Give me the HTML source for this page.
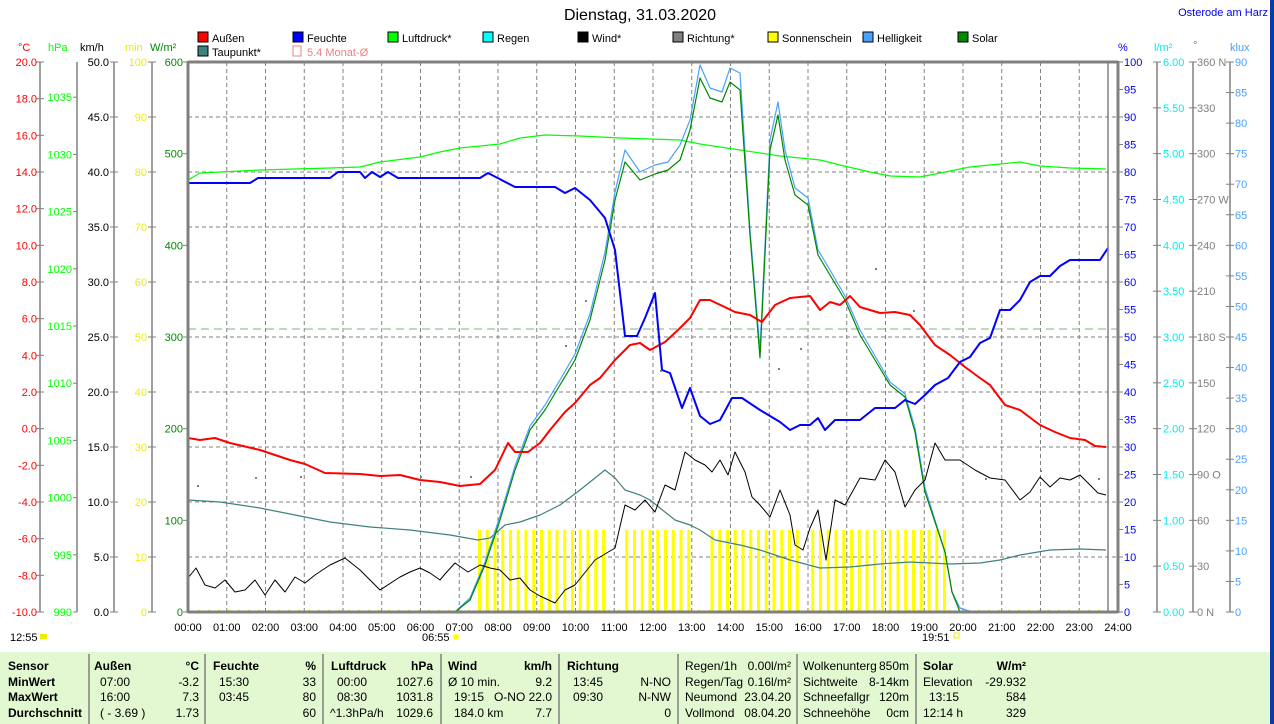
<!DOCTYPE html>
<html><head><meta charset="utf-8"><style>
body{margin:0;background:#fff;}
svg{display:block;font-family:"Liberation Sans",sans-serif;}
</style></head><body>
<svg width="1274" height="724" viewBox="0 0 1274 724" xmlns="http://www.w3.org/2000/svg">
<rect width="1274" height="724" fill="#fff"/>
<text x="640" y="20" font-size="16" text-anchor="middle">Dienstag, 31.03.2020</text>
<text x="1268" y="16" font-size="11" fill="#0000ee" text-anchor="end">Osterode am Harz</text>
<rect x="1270" y="0" width="4" height="724" fill="#0a3aa8"/>
<g font-size="11">
<rect x="198" y="32" width="10" height="10" fill="#f00" stroke="#000"/><text x="212" y="42">Außen</text>
<rect x="293" y="32" width="10" height="10" fill="#00f" stroke="#000"/><text x="307" y="42">Feuchte</text>
<rect x="388" y="32" width="10" height="10" fill="#0f0" stroke="#000"/><text x="402" y="42">Luftdruck*</text>
<rect x="483" y="32" width="10" height="10" fill="#0ff" stroke="#000"/><text x="497" y="42">Regen</text>
<rect x="578" y="32" width="10" height="10" fill="#000" stroke="#000"/><text x="592" y="42">Wind*</text>
<rect x="673" y="32" width="10" height="10" fill="#808080" stroke="#000"/><text x="687" y="42">Richtung*</text>
<rect x="768" y="32" width="10" height="10" fill="#ff0" stroke="#000"/><text x="782" y="42">Sonnenschein</text>
<rect x="863" y="32" width="10" height="10" fill="#4aa0ff" stroke="#000"/><text x="877" y="42">Helligkeit</text>
<rect x="958" y="32" width="10" height="10" fill="#080" stroke="#000"/><text x="972" y="42">Solar</text>
<rect x="198" y="46" width="10" height="10" fill="#408080" stroke="#000"/><text x="212" y="56">Taupunkt*</text>
<rect x="293" y="46" width="8" height="10" fill="none" stroke="#f08080"/><text x="307" y="56" fill="#f08080">5.4 Monat-Ø</text>
<text x="18" y="51" fill="#f00">°C</text><text x="48" y="51" fill="#0f0">hPa</text><text x="80" y="51">km/h</text>
<text x="125" y="51" fill="#ee0">min</text><text x="150" y="51" fill="#080">W/m²</text>
<text x="1118" y="51" fill="#00f">%</text><text x="1154" y="51" fill="#0ee">l/m²</text><text x="1193" y="49" fill="#808080">°</text><text x="1230" y="51" fill="#4aa0ff">klux</text>
</g>
<g stroke="#808080" stroke-width="1.5">
<line x1="40" y1="62" x2="40" y2="612"/><line x1="77" y1="62" x2="77" y2="612"/><line x1="114" y1="62" x2="114" y2="612"/><line x1="152" y1="62" x2="152" y2="612"/>
<line x1="1157" y1="62" x2="1157" y2="612"/><line x1="1193" y1="62" x2="1193" y2="612"/><line x1="1230" y1="62" x2="1230" y2="612"/>
</g>
<g id="ticks" font-size="11"></g>
<g stroke="#808080" stroke-dasharray="4,3" stroke-width="1" id="grid"></g>
<line x1="188" y1="329" x2="1118" y2="329" stroke="#80b080" stroke-dasharray="8,5"/>
<g id="sun" fill="#ff0"></g>
<g fill="none" stroke-linejoin="round">
<polyline stroke="#408080" stroke-width="1.2" points="188,500 220,502 260,508 300,516 330,522 370,527 410,530 450,535 478,540 490,538 505,525 520,522 540,515 560,505 580,490 595,478 605,470 615,478 625,490 640,495 650,500 660,508 675,520 690,525 700,530 715,540 740,545 760,550 790,560 820,568 850,567 880,564 910,562 950,564 980,563 1000,560 1020,555 1050,550 1080,549 1106,550"/>
<polyline stroke="#0f0" stroke-width="1.2" points="188,180 200,173 260,170 330,168 360,167 380,162 420,157 440,152 460,148 500,144 520,138 545,135 580,136 620,138 680,140 700,144 740,150 780,156 820,160 840,165 870,172 890,176 920,177 940,173 970,167 1000,164 1020,162 1040,166 1070,168 1106,169"/>
<polyline stroke="#4aa0ff" stroke-width="1.2" points="455,612 470,598 485,562 500,516 515,466 530,426 545,405 560,380 575,354 590,314 605,252 615,192 625,150 640,172 655,165 668,162 680,145 690,120 700,65 710,88 722,92 730,68 740,73 750,230 760,350 770,140 778,102 785,150 795,188 808,198 818,250 830,270 845,296 860,330 875,356 890,382 905,394 915,428 925,488 935,520 945,552 952,592 960,608 972,612"/>
<polyline stroke="#080" stroke-width="1.2" points="455,612 470,600 485,565 500,520 515,470 530,430 545,410 560,385 575,360 590,320 605,260 615,200 625,162 640,180 655,174 668,170 680,160 690,130 700,78 710,98 722,102 730,82 740,90 750,235 760,358 770,150 778,115 785,160 795,195 808,205 818,255 830,275 845,300 860,335 875,360 890,385 905,397 915,432 925,492 935,522 945,552 952,592 960,612"/>
<polyline stroke="#000" stroke-width="1" points="188,578 196,568 205,585 215,588 225,580 235,592 245,590 255,580 265,595 275,580 285,592 295,577 305,583 315,575 330,565 345,558 360,570 380,590 400,577 410,572 420,568 430,573 440,580 445,574 455,563 468,572 480,565 490,568 500,570 510,580 520,578 530,590 540,596 555,603 565,590 575,585 595,560 615,548 625,505 635,510 645,500 655,512 665,485 675,490 685,452 695,460 705,465 712,472 720,460 728,475 735,452 745,472 752,497 760,505 770,517 780,490 790,515 795,545 803,550 810,528 818,510 826,560 835,500 845,505 860,478 875,480 885,460 895,472 905,507 915,490 925,480 935,443 945,460 960,460 975,470 990,478 1005,480 1020,500 1030,492 1040,477 1050,487 1060,478 1070,480 1080,475 1090,485 1098,493 1106,495"/>
<polyline stroke="#f00" stroke-width="2" points="188,438 200,440 215,438 230,443 260,450 290,460 305,464 325,473 360,474 380,476 400,475 420,480 440,482 460,486 480,484 495,470 508,443 515,452 528,452 540,443 550,430 565,412 575,403 590,385 600,378 615,360 630,345 640,343 650,350 665,342 678,330 690,318 700,300 710,300 735,312 750,315 762,322 775,305 790,298 810,296 820,310 830,302 840,305 850,296 860,307 880,313 895,312 910,315 920,325 935,345 950,355 965,367 980,378 990,385 1005,405 1020,410 1040,425 1055,432 1070,438 1085,440 1095,446 1106,447"/>
<polyline stroke="#00f" stroke-width="2" points="188,183 250,183 258,178 330,178 338,172 360,172 365,178 372,172 380,177 388,172 398,178 480,178 488,173 515,187 555,187 565,193 575,188 590,200 605,218 615,250 625,336 637,336 645,318 655,293 662,370 670,373 682,408 690,388 700,416 710,424 720,420 732,398 742,398 760,410 780,422 790,430 800,425 810,425 818,418 825,430 835,420 860,420 875,408 895,408 905,400 915,404 925,395 935,385 948,378 960,362 970,357 980,343 990,338 1000,310 1010,310 1020,300 1030,282 1040,276 1050,276 1060,266 1070,260 1100,260 1108,248"/>
</g>
<g fill="#808080">
<rect x="197" y="485" width="2" height="2"/><rect x="255" y="477" width="2" height="2"/><rect x="300" y="476" width="2" height="2"/><rect x="420" y="476" width="2" height="2"/><rect x="470" y="476" width="2" height="2"/><rect x="565" y="345" width="2" height="2"/><rect x="585" y="300" width="2" height="2"/><rect x="660" y="370" width="2" height="2"/><rect x="778" y="368" width="2" height="2"/><rect x="800" y="348" width="2" height="2"/><rect x="875" y="268" width="2" height="2"/><rect x="913" y="310" width="2" height="2"/><rect x="985" y="478" width="2" height="2"/><rect x="1040" y="470" width="2" height="2"/><rect x="1098" y="478" width="2" height="2"/>
</g>
<g stroke="#808080" stroke-width="3" fill="none">
<line x1="188" y1="62" x2="1118" y2="62"/><line x1="188" y1="61" x2="188" y2="613"/><line x1="1118" y1="61" x2="1118" y2="613"/><line x1="188" y1="612" x2="1118" y2="612"/>
</g>
<line x1="1108" y1="62" x2="1108" y2="612" stroke="#808080" stroke-width="1.5"/>
<g font-size="11" id="xl"></g>
<g font-size="11">
<text x="10" y="641">12:55</text><rect x="40" y="634" width="7" height="5" fill="#ee0"/>
<text x="422" y="641">06:55</text><circle cx="456" cy="637" r="3" fill="#ff0"/>
<text x="922" y="641">19:51</text><rect x="954" y="633" width="5" height="5" fill="none" stroke="#ee0"/>
</g>
<rect x="0" y="652" width="1270" height="72" fill="#e2f8d0"/>
<g stroke="#808080" stroke-width="1.5">
<line x1="89" y1="654" x2="89" y2="724"/><line x1="205" y1="654" x2="205" y2="724"/><line x1="323" y1="654" x2="323" y2="724"/><line x1="441" y1="654" x2="441" y2="724"/><line x1="559" y1="654" x2="559" y2="724"/><line x1="678" y1="654" x2="678" y2="724"/><line x1="797" y1="654" x2="797" y2="724"/><line x1="916" y1="654" x2="916" y2="724"/>
</g>
<g font-size="12">
<g font-weight="bold"><text x="8" y="670">Sensor</text><text x="8" y="686">MinWert</text><text x="8" y="701">MaxWert</text><text x="8" y="717">Durchschnitt</text>
<text x="94" y="670">Außen</text><text x="199" y="670" text-anchor="end">°C</text><text x="213" y="670">Feuchte</text><text x="316" y="670" text-anchor="end">%</text>
<text x="331" y="670">Luftdruck</text><text x="433" y="670" text-anchor="end">hPa</text><text x="448" y="670">Wind</text><text x="552" y="670" text-anchor="end">km/h</text><text x="567" y="670">Richtung</text>
<text x="923" y="670">Solar</text><text x="1026" y="670" text-anchor="end">W/m²</text></g>
<text x="100" y="686">07:00</text><text x="199" y="686" text-anchor="end">-3.2</text><text x="100" y="701">16:00</text><text x="199" y="701" text-anchor="end">7.3</text><text x="100" y="717">( - 3.69 )</text><text x="199" y="717" text-anchor="end">1.73</text>
<text x="219" y="686">15:30</text><text x="316" y="686" text-anchor="end">33</text><text x="219" y="701">03:45</text><text x="316" y="701" text-anchor="end">80</text><text x="316" y="717" text-anchor="end">60</text>
<text x="337" y="686">00:00</text><text x="433" y="686" text-anchor="end">1027.6</text><text x="337" y="701">08:30</text><text x="433" y="701" text-anchor="end">1031.8</text><text x="330" y="717">^1.3hPa/h</text><text x="433" y="717" text-anchor="end">1029.6</text>
<text x="448" y="686">Ø 10 min.</text><text x="552" y="686" text-anchor="end">9.2</text><text x="454" y="701">19:15</text><text x="552" y="701" text-anchor="end">O-NO 22.0</text><text x="454" y="717">184.0 km</text><text x="552" y="717" text-anchor="end">7.7</text>
<text x="573" y="686">13:45</text><text x="671" y="686" text-anchor="end">N-NO</text><text x="573" y="701">09:30</text><text x="671" y="701" text-anchor="end">N-NW</text><text x="671" y="717" text-anchor="end">0</text>
<text x="685" y="670">Regen/1h</text><text x="791" y="670" text-anchor="end">0.00l/m²</text><text x="685" y="686">Regen/Tag</text><text x="791" y="686" text-anchor="end">0.16l/m²</text><text x="685" y="701">Neumond</text><text x="791" y="701" text-anchor="end">23.04.20</text><text x="685" y="717">Vollmond</text><text x="791" y="717" text-anchor="end">08.04.20</text>
<text x="803" y="670">Wolkenunterg</text><text x="909" y="670" text-anchor="end">850m</text><text x="803" y="686">Sichtweite</text><text x="909" y="686" text-anchor="end">8-14km</text><text x="803" y="701">Schneefallgr</text><text x="909" y="701" text-anchor="end">120m</text><text x="803" y="717">Schneehöhe</text><text x="909" y="717" text-anchor="end">0cm</text>
<text x="923" y="686">Elevation</text><text x="1026" y="686" text-anchor="end">-29.932</text><text x="929" y="701">13:15</text><text x="1026" y="701" text-anchor="end">584</text><text x="923" y="717">12:14 h</text><text x="1026" y="717" text-anchor="end">329</text>
</g>
<script>
var NS="http://www.w3.org/2000/svg";
function el(p,t,a,tx){var e=document.createElementNS(NS,t);for(var k in a)e.setAttribute(k,a[k]);if(tx!==undefined)e.textContent=tx;p.appendChild(e);return e;}
var g=document.getElementById('grid'),tk=document.getElementById('ticks'),xl=document.getElementById('xl'),sun=document.getElementById('sun');
for(var h=1;h<24;h++){var x=188+h*38.75;el(g,'line',{x1:x,y1:62,x2:x,y2:612});}
for(var i=1;i<10;i++){var y=62+i*55;el(g,'line',{x1:188,y1:y,x2:1118,y2:y});}
for(var h=0;h<=24;h++){var x=188+h*38.75;el(xl,'text',{x:x,y:631,'text-anchor':'middle'},(h<10?'0':'')+h+':00');}
function axis(n,y0,step,lx,col,fmt,tx1,tx2,anchor){for(var i=0;i<=n;i++){var y=612-i*550/n;el(tk,'line',{x1:tx1,y1:y,x2:tx2,y2:y,stroke:'#808080'});el(tk,'text',{x:lx,y:y+4,fill:col,'text-anchor':anchor||'end'},fmt(i));}}
axis(15,0,0,37,'#f00',function(i){return (-10+2*i).toFixed(1);},36,44);
for(var i=0;i<=9;i++){var y=612-i*57.2;el(tk,'line',{x1:73,y1:y,x2:77,y2:y,stroke:'#808080'});el(tk,'text',{x:72,y:y+4,fill:'#0f0','text-anchor':'end'},990+5*i);}
axis(10,0,0,109,'#000',function(i){return (5*i).toFixed(1);},110,118);
axis(10,0,0,147,'#ee0',function(i){return 10*i;},148,156);
axis(6,0,0,183,'#080',function(i){return 100*i;},183,188);
axis(20,0,0,1124,'#00f',function(i){return 5*i;},1118,1123,'start');
axis(12,0,0,1163,'#0ee',function(i){return (0.5*i).toFixed(2);},1153,1161,'start');
var dn={0:'0   N',3:'90  O',6:'180 S',9:'270 W',12:'360 N'};
axis(12,0,0,1197,'#808080',function(i){return dn[i]||String(30*i);},1189,1197,'start');
axis(18,0,0,1235,'#4aa0ff',function(i){return 5*i;},1226,1234,'start');
for(var x=478;x<=945;x+=7.75){if((x>606&&x<622)||(x>693&&x<703)||(x>800&&x<810))continue;el(sun,'rect',{x:x,y:530,width:3,height:82});}
el(sun,'line',{x1:188,y1:611,x2:1106,y2:611,stroke:'#ee0','stroke-width':2,'stroke-dasharray':'2,8'});
</script>
</svg>
</body></html>
